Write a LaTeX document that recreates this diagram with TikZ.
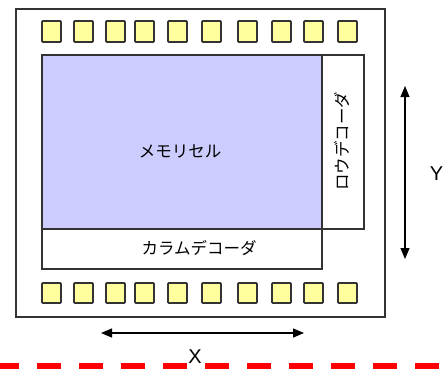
\documentclass[tikz,border=0pt]{standalone}
\usepackage{fontspec}
\setmainfont{Liberation Sans}
\newfontfamily\jpfont{Noto Sans CJK JP}
\usetikzlibrary{arrows.meta}
\definecolor{padfill}{HTML}{FFFF9E}
\definecolor{cellfill}{HTML}{CCCCFF}
\definecolor{edge}{HTML}{333333}
\begin{document}
\begin{tikzpicture}[x=1pt,y=-1pt,
  pad/.style={draw=edge,line width=1.8pt,fill=padfill,rounded corners=0.8pt},
  blk/.style={draw=edge,line width=1.3pt},
  jp/.style={font=\jpfont\fontsize{16.5}{16.5}\selectfont,inner sep=0pt},
  lat/.style={font=\fontsize{20}{20}\selectfont,inner sep=0pt},
  dim/.style={line width=1.2pt,{Triangle[width=9pt,length=11pt]}-{Triangle[width=9pt,length=11pt]}}]
\useasboundingbox (0,0) rectangle (444,368);
\clip (0,0) rectangle (444,368);
\fill[white] (0,0) rectangle (444,368);
% outer chip
\draw[blk,line width=1.6pt] (16,9) rectangle (385,317);
% pads
\foreach \px [count=\i] in {42,74,106,135,168,202,238,272,304,338}{
  \draw[pad] (\px,21) rectangle ++(19,21);
  \draw[pad] (\px,283) rectangle ++(19,20);
}
% blocks
\draw[blk,fill=cellfill] (42,55) rectangle (322,229);
\draw[blk] (322,55) rectangle (364,229);
\draw[blk] (42,229) rectangle (322,269);
\node[jp] (cell) at (180,151) {メモリセル};
\node[jp,rotate=90] (rowdec) at (342,141) {ロウデコーダ};
\node[jp] (coldec) at (199,248) {カラムデコーダ};
% dimension arrows
\coordinate (ytop) at (405,86);
\coordinate (ybot) at (405,259);
\draw[dim] (ytop) -- (ybot);
\coordinate (xl) at (101,333);
\coordinate (xr) at (304,333);
\draw[dim] (xl) -- (xr);
% red dashed line
\coordinate (rl) at (-5,367);
\coordinate (rr) at (450,367);
\draw[red,line width=8pt,dash pattern=on 24pt off 18pt] (rl) -- (rr);
\node[lat] (xlab) at (195,357) {X};
\node[lat] (ylab) at (436.5,174) {Y};
\end{tikzpicture}
\end{document}
